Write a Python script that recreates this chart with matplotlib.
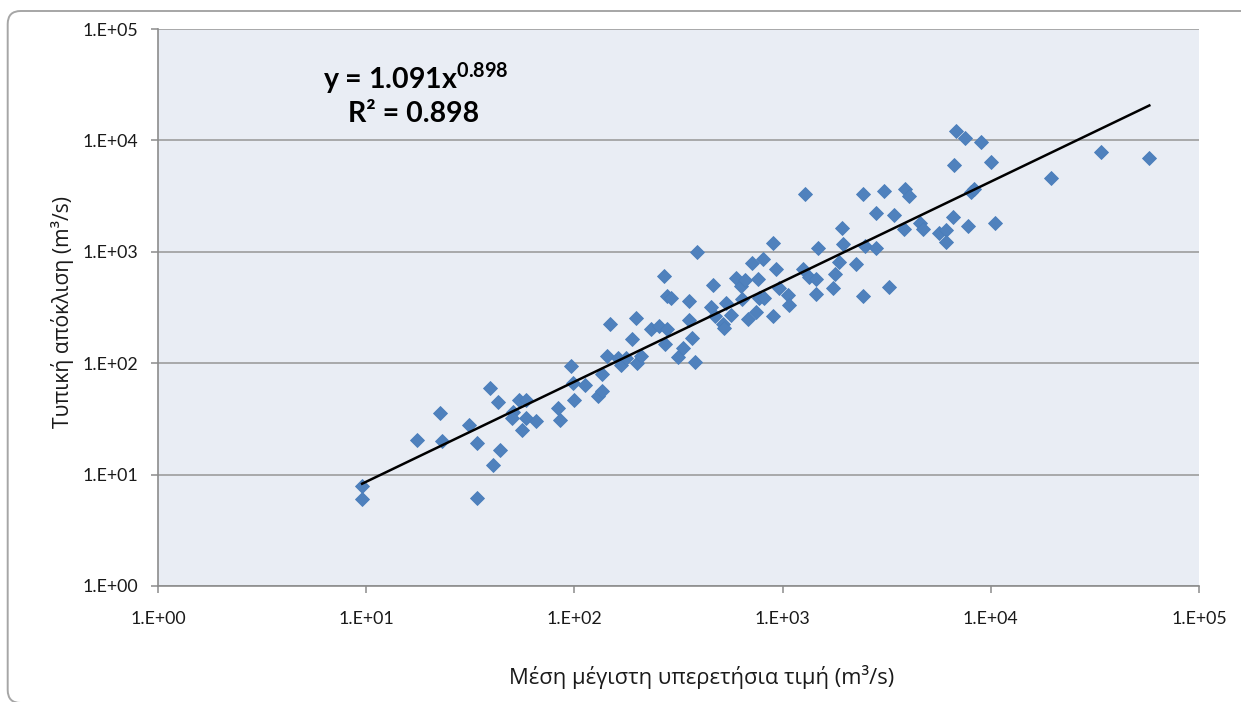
import matplotlib
matplotlib.use("Agg")
import matplotlib.pyplot as plt
from matplotlib.patches import FancyBboxPatch
import numpy as np

# mean annual maximum flow (m3/s) per station
mean_max = [9.56, 9.56, 17.6, 22.7, 23.1, 31.2, 34.2, 34.2, 39.2, 43.1,
            40.5, 43.9, 50.7, 54.0, 58.3, 50.0, 58.3, 65.4, 56.2, 83.3,
            85.6, 96.6, 98.3, 112, 99.4, 130, 136, 136, 144, 148,
            162, 168, 177, 190, 197, 200, 209, 234, 256, 271,
            278, 269, 278, 292, 314, 332, 354, 357, 368, 381,
            390, 462, 455, 472, 520, 524, 532, 568, 594, 632,
            639, 658, 680, 714, 746, 766, 768, 803, 818, 903,
            903, 931, 965, 1058, 1070, 1249, 1345, 1443, 1443, 1474,
            1282, 1921, 1943, 1859, 1792, 1753, 2253, 2423, 2442, 2496,
            2810, 2810, 3079, 3254, 3440, 3885, 4029, 3842, 4584, 4738,
            5654, 6089, 6089, 6549, 6673, 6799, 7538, 7732, 8025, 8324,
            8964, 10010, 10500, 19430, 33980, 57730]

# standard deviation of annual maxima (m3/s)
std_dev = [7.97, 6.06, 20.6, 36.0, 19.9, 28.1, 19.2, 6.19, 60.3, 44.9,
           12.1, 16.5, 36.2, 47.0, 46.4, 32.4, 32.4, 30.5, 25.3, 39.6,
           31.1, 94.9, 66.4, 64.1, 47.0, 50.4, 55.8, 80.0, 117, 226,
           111, 96.9, 111, 165, 256, 100, 117, 202, 214, 149,
           202, 608, 402, 384, 113, 137, 361, 242, 169, 102,
           998, 508, 319, 266, 223, 205, 346, 272, 587, 495,
           378, 560, 249, 790, 291, 568, 384, 858, 384, 1209,
           266, 702, 472, 411, 332, 698, 599, 568, 419, 1091,
           3303, 1648, 1177, 817, 634, 478, 779, 3303, 397, 1136,
           2218, 1091, 3513, 482, 2141, 3639, 3170, 1594, 1826, 1594,
           1468, 1571, 1234, 2067, 6009, 12120, 10430, 1707, 3463, 3639,
           9600, 6353, 1826, 4566, 7808, 6985]

# power-law trend y = a * x^b
coef_a = 1.091
coef_b = 0.898
r_squared = 0.898

tick_values = [1e0, 1e1, 1e2, 1e3, 1e4, 1e5]
tick_labels = ["1.E+00", "1.E+01", "1.E+02", "1.E+03", "1.E+04", "1.E+05"]

x_label = "Μέση μέγιστη υπερετήσια τιμή (m³/s)"
y_label = "Τυπική απόκλιση (m³/s)"

plt.rcParams["mathtext.fontset"] = "custom"
plt.rcParams["mathtext.rm"] = "Lato"
plt.rcParams["mathtext.bf"] = "Lato:bold"

num_font = ["Lato", "DejaVu Sans"]
greek_font = ["Open Sans", "DejaVu Sans"]

W, H = 1241, 702
fig = plt.figure(figsize=(W / 100, H / 100), dpi=100)
fig.patch.set_facecolor("white")

# chart frame with rounded corners (pixel coordinates)
frame = FancyBboxPatch((7.7, -1), 1250, 692, boxstyle="round,pad=0,rounding_size=13",
                       transform=None, facecolor="none", edgecolor="#a6a6a6", lw=1.4)
fig.patches.append(frame)

ax = fig.add_axes([158 / W, 1 - 586 / H, (1199 - 158) / W, (586 - 29) / H])
ax.set_facecolor("#e9edf4")
ax.set_xscale("log")
ax.set_yscale("log")
ax.set_xlim(1e0, 1e5)
ax.set_ylim(1e0, 1e5)

ax.set_xticks(tick_values)
ax.set_xticklabels(tick_labels)
ax.set_yticks(tick_values)
ax.set_yticklabels(tick_labels)
ax.minorticks_off()

ax.yaxis.grid(True, color="#9d9d9d", lw=1.2)
ax.set_axisbelow(True)

for side in ["top", "right"]:
    ax.spines[side].set_visible(False)
for side in ["left", "bottom"]:
    ax.spines[side].set_color("#8c8c8c")
    ax.spines[side].set_linewidth(1.2)

ax.tick_params(axis="both", direction="out", length=5, width=1.1, color="#8c8c8c",
               labelsize=12.8, labelcolor="#1a1a1a")
ax.tick_params(axis="x", pad=13)
ax.tick_params(axis="y", pad=9)
for lbl in ax.get_xticklabels() + ax.get_yticklabels():
    lbl.set_family(num_font)

ax.plot(mean_max, std_dev, linestyle="none", marker="D", markersize=7.2,
        markerfacecolor="#4f81bd", markeredgecolor="#4a7ebb", markeredgewidth=0.6,
        zorder=3)

x_fit = np.logspace(np.log10(min(mean_max)), np.log10(max(mean_max)), 200)
ax.plot(x_fit, coef_a * x_fit ** coef_b, color="black", lw=1.8, zorder=4)

# trend equation
fig.text(416 / W, 1 - 78 / H, r"y = %.3fx$^{\mathbf{%.3f}}$" % (coef_a, coef_b),
         ha="center", va="center", fontsize=20.5, fontweight="bold",
         family=num_font, color="black")
fig.text(414 / W, 1 - 114 / H, "R² = %.3f" % r_squared,
         ha="center", va="center", fontsize=20.5, fontweight="bold",
         family=num_font, color="black")

fig.text(702 / W, 1 - 677 / H, x_label, ha="center", va="center",
         fontsize=15.8, family=greek_font, color="#1a1a1a")
fig.text(62 / W, 1 - 312 / H, y_label, ha="center", va="center", rotation=90,
         fontsize=15.2, family=greek_font, color="#1a1a1a")

fig.savefig("out.png", dpi=100)
